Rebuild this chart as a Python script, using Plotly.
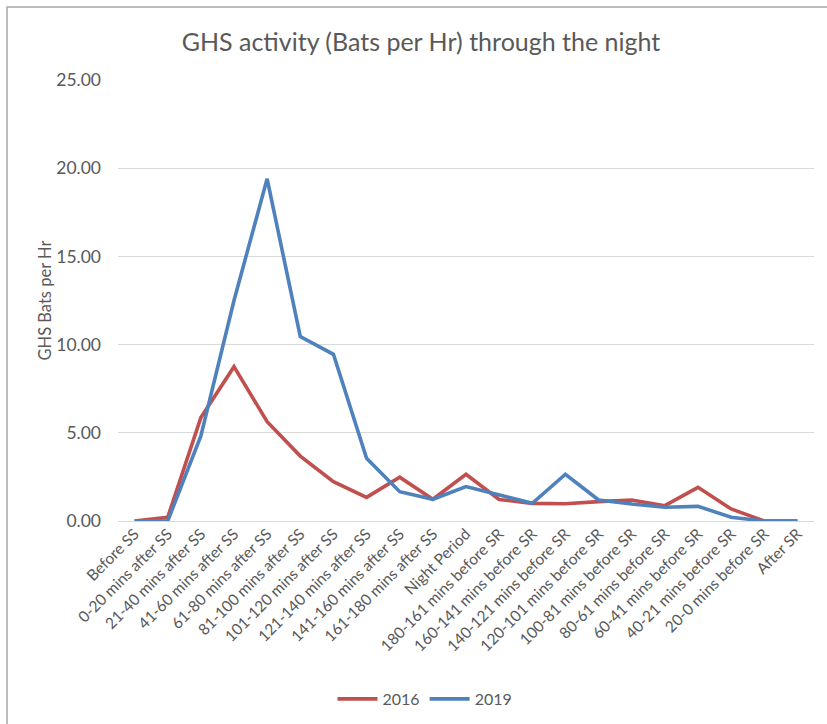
import plotly.graph_objects as go

categories = [
    "Before SS", "0-20 mins after SS", "21-40 mins after SS", "41-60 mins after SS",
    "61-80 mins after SS", "81-100 mins after SS", "101-120 mins after SS",
    "121-140 mins after SS", "141-160 mins after SS", "161-180 mins after SS",
    "Night Period", "180-161 mins before SR", "160-141 mins before SR",
    "140-121 mins before SR", "120-101 mins before SR", "100-81 mins before SR",
    "80-61 mins before SR", "60-41 mins before SR", "40-21 mins before SR",
    "20-0 mins before SR", "After SR",
]
values_2016 = [0.0, 0.21, 5.86, 8.75, 5.63, 3.68, 2.23, 1.34, 2.48, 1.23,
               2.65, 1.22, 1.0, 0.98, 1.1, 1.19, 0.87, 1.91, 0.68, 0.0, 0.0]
values_2019 = [0.0, 0.0, 4.82, 12.5, 19.4, 10.45, 9.45, 3.55, 1.66, 1.23,
               1.95, 1.47, 1.0, 2.65, 1.19, 0.96, 0.78, 0.83, 0.21, 0.0, 0.0]
y_ticks = [0, 5, 10, 15, 20, 25]

FONT = "Lato, 'Open Sans', sans-serif"
GRAY = "#595959"

fig = go.Figure()
fig.add_trace(go.Scatter(x=categories, y=values_2016, mode="lines", name="2016",
                         line=dict(color="#C0504D", width=3.6)))
fig.add_trace(go.Scatter(x=categories, y=values_2019, mode="lines", name="2019",
                         line=dict(color="#4F81BD", width=3.6)))

W, H = 827, 724
L, R, T, B = 118, 13, 80, 203
pw, ph = W - L - R, H - T - B

fig.update_layout(
    width=W, height=H,
    margin=dict(l=L, r=R, t=T, b=B, autoexpand=False),
    paper_bgcolor="white", plot_bgcolor="white",
    font=dict(family=FONT, color=GRAY, size=15),
    title=dict(text="GHS activity (Bats per Hr) through the night",
               font=dict(family=FONT, size=25, color=GRAY),
               xref="container", x=421 / W, xanchor="center",
               yref="container", y=1 - 42 / H, yanchor="middle"),
    showlegend=True,
    legend=dict(orientation="h", xref="container", x=425 / W, xanchor="center",
                yref="container", y=1 - 699 / H, yanchor="middle",
                font=dict(size=16, color=GRAY), itemwidth=40),
    xaxis=dict(type="category", range=[-0.5, len(categories) - 0.5],
               tickangle=-45, showgrid=False, showline=False, ticks="",
               automargin=False,
               tickfont=dict(size=15.5, color=GRAY)),
    yaxis=dict(range=[0, 25], tickvals=y_ticks,
               ticktext=[f"{v:.2f}" for v in y_ticks],
               showgrid=True, gridcolor="#D9D9D9", gridwidth=1,
               zeroline=True, zerolinecolor="#D9D9D9", zerolinewidth=1,
               showline=False, ticks="", ticklabelstandoff=16,
               automargin=False,
               tickfont=dict(size=17.5, color=GRAY),
               title=dict(text="GHS Bats per Hr", font=dict(size=16.5, color=GRAY), standoff=0)),
)

# outer chart frame (extends past right/bottom edges as in the reference)
fig.add_shape(type="rect", xref="paper", yref="paper",
              x0=(7 - L) / pw, x1=(W + 20 - L) / pw,
              y0=-(H + 20 - (T + ph)) / ph, y1=(T + ph - 7) / ph,
              line=dict(color="#A6A6A6", width=1.5), fillcolor="rgba(0,0,0,0)",
              layer="below")

fig.write_html("out.html", config={"displayModeBar": False},
               post_script="document.body.style.margin='0';document.body.style.overflow='hidden';")
